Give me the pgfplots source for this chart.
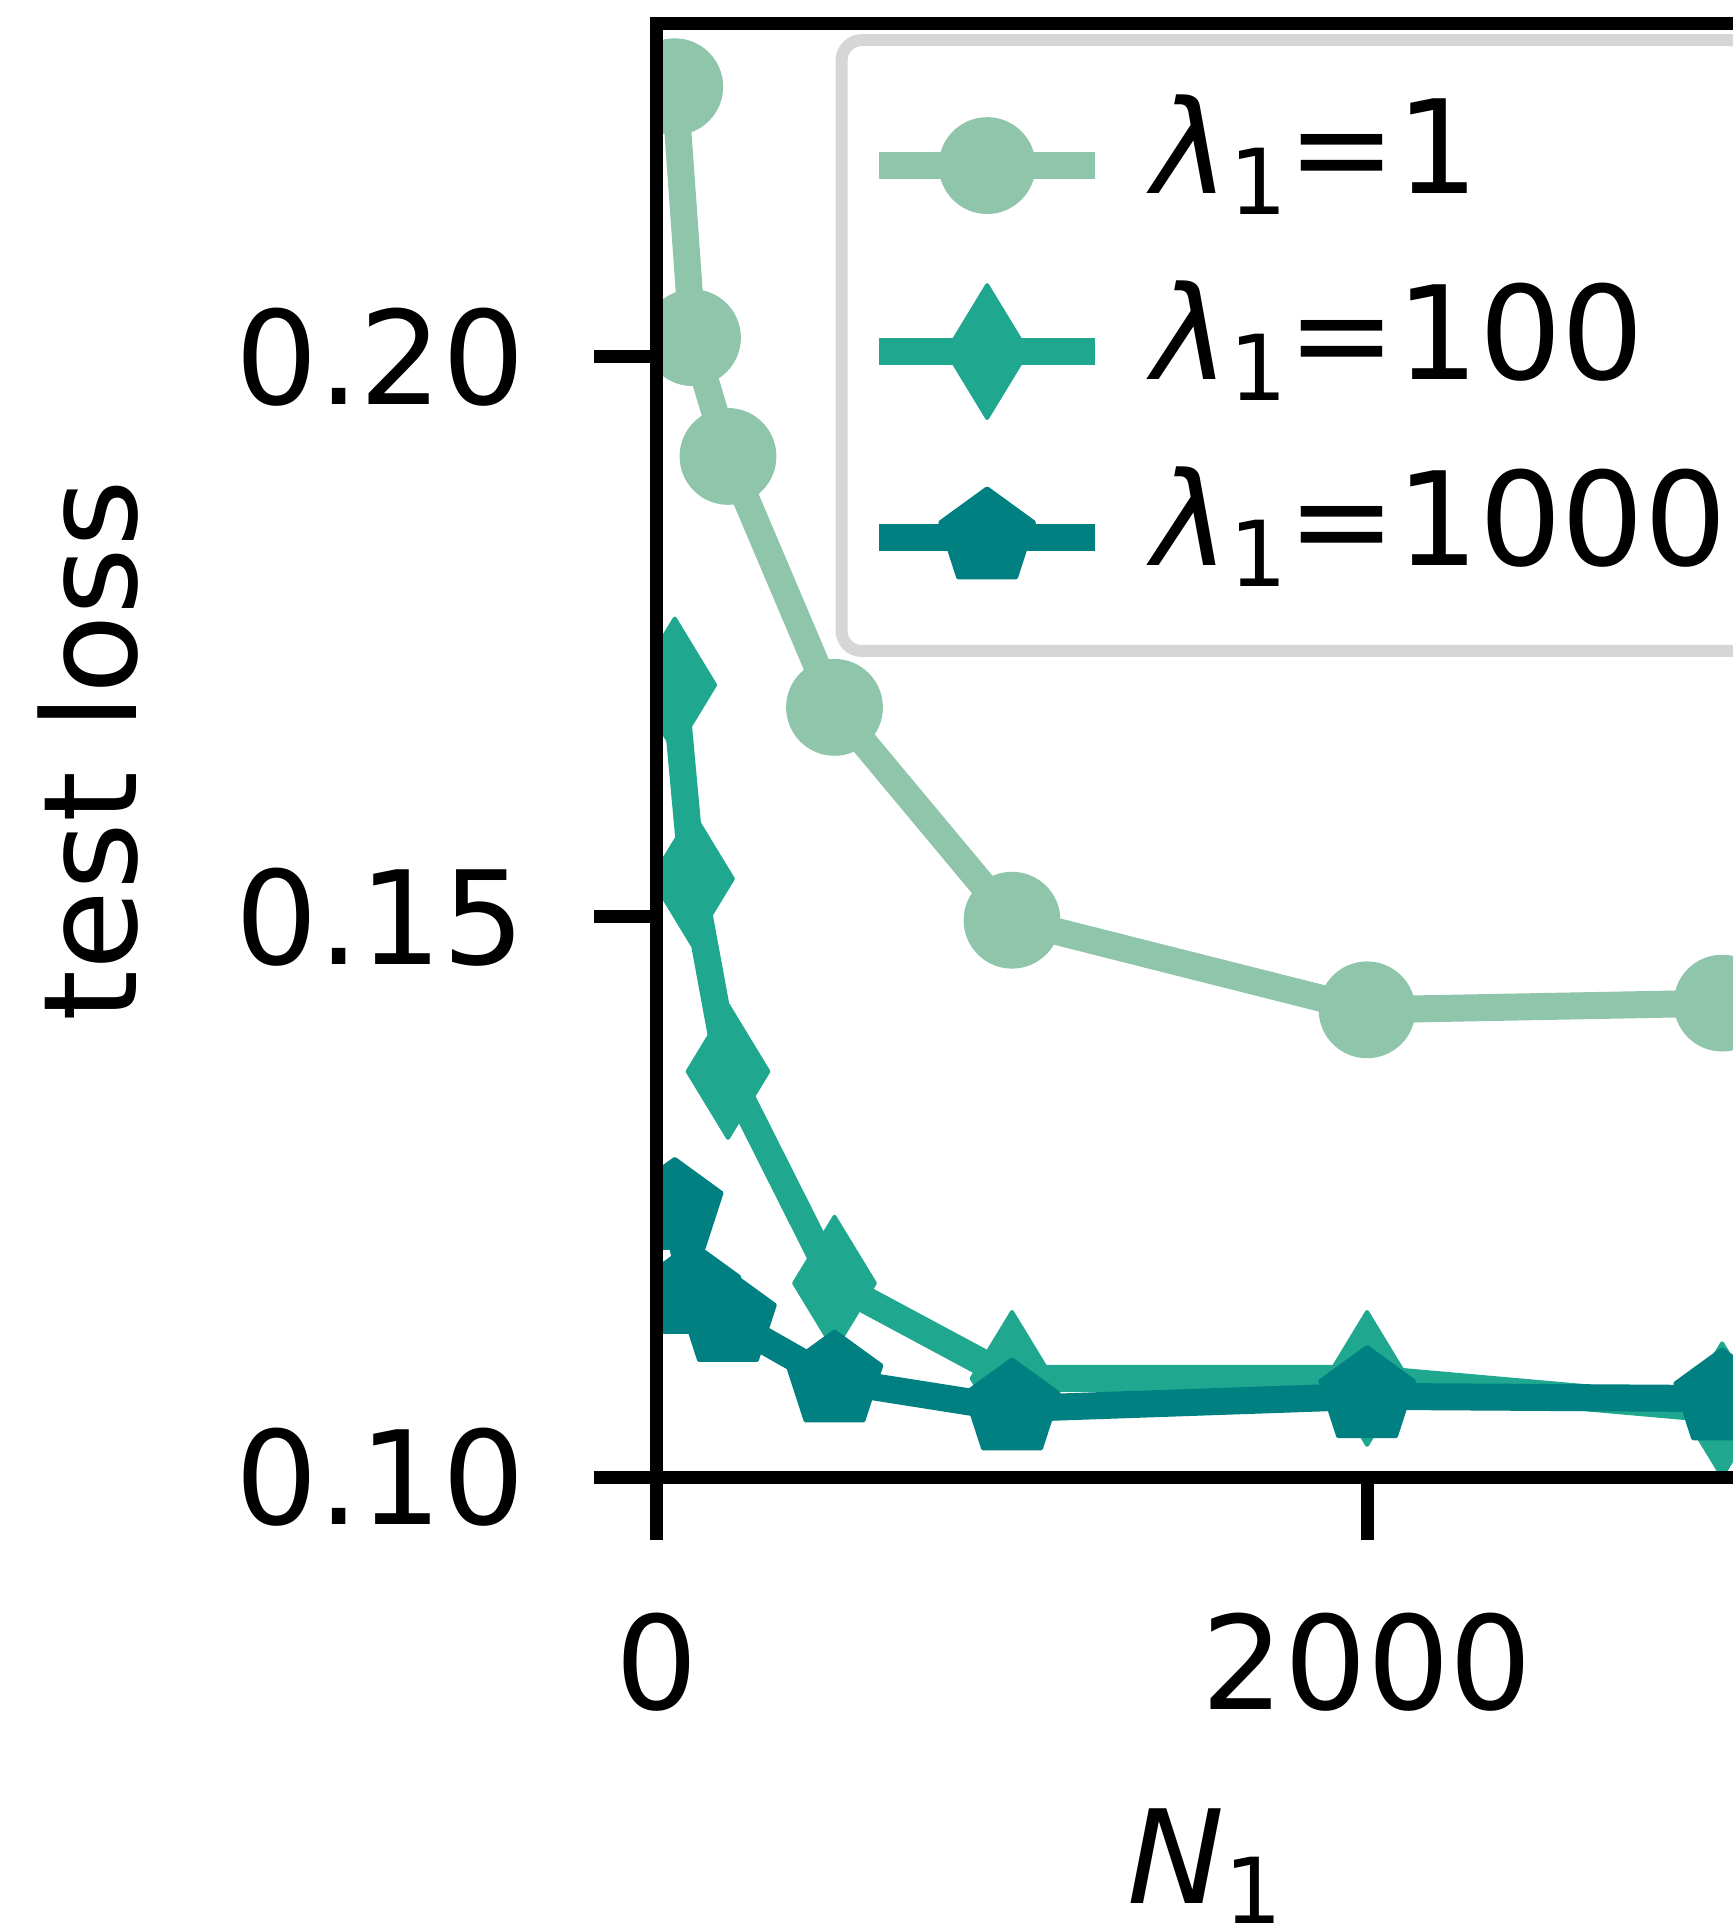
\documentclass[border=0pt]{standalone}
\usepackage{fontspec}
\setmainfont{DejaVu Sans}
\usepackage{pgfplots}
\pgfplotsset{compat=1.18}
\definecolor{cA}{HTML}{8EC5AB}
\definecolor{cB}{HTML}{20A78F}
\definecolor{cC}{HTML}{008080}
\definecolor{frameg}{HTML}{D6D6D6}
\newcommand{\fs}{\fontsize{32.5pt}{39pt}\selectfont}
\newcommand{\sub}[1]{\raisebox{-0.16em}{\fontsize{22.75pt}{27pt}\selectfont #1}}
\newcommand{\lam}{{\itshape λ}\sub{1}}
\begin{document}
\begin{tikzpicture}
\begin{axis}[
  scale only axis, width=274pt, height=363.25pt,
  xmin=0, xmax=3087, ymin=0.10, ymax=0.2297,
  xtick={0,2000}, xticklabels={0,2000},
  ytick={0.10,0.15,0.20}, yticklabels={0.10,0.15,0.20},
  xtick pos=bottom, ytick pos=left,
  tick align=outside, major tick length=15.75pt,
  tick style={line width=3.25pt, black},
  axis line style={line width=3.25pt, black},
  tick label style={font=\fs},
  xticklabel style={anchor=north, inner sep=0pt, yshift=-18pt},
  yticklabel style={anchor=east, inner sep=0pt, xshift=-17pt},
  every axis x label/.style={at={(axis description cs:0.5,-0.2932)}, anchor=base, font=\fs},
  every axis y label/.style={at={(axis description cs:-0.519,0.5)}, rotate=90, anchor=center, font=\fs},
  xlabel={{\itshape N}\sub{1}},
  ylabel={test loss},
  axis on top,
  clip marker paths=true,
  legend cell align=left,
  legend image code/.code={\draw[mark repeat=2,mark phase=2] plot coordinates {(0pt,-1.5pt) (27pt,-1.5pt) (54pt,-1.5pt)};},
  legend style={at={(axis description cs:0.163,0.993)}, anchor=north west,
    draw=frameg, line width=3pt, rounded corners=5pt, fill=white,
    font=\fs, inner xsep=6pt, inner ysep=6.6pt, row sep=0pt,
    nodes={inner sep=0pt, text height=31.8pt, text depth=14.7pt},
    /tikz/every odd column/.append style={column sep=11pt}},
]
\coordinate (O) at (rel axis cs:0,0);
\addplot[cA, line width=6.75pt, line join=round, mark=*, mark size=11.6pt,
  mark options={solid, fill=cA, draw=cA, line width=1pt}]
  coordinates {(50,0.2241)(100,0.2017)(200,0.1911)(500,0.1687)(1000,0.1497)(2000,0.1417)(3000,0.1423)};
\addlegendentry{\lam=1}
\addplot[cB, line width=6.75pt, line join=round, mark=diamond*, mark size=16.6pt,
  mark options={solid, fill=cB, draw=cB, line width=1pt, line join=round, xscale=0.81}]
  coordinates {(50,0.1707)(100,0.1534)(200,0.1362)(500,0.1173)(1000,0.1088)(2000,0.1088)(3000,0.1060)};
\addlegendentry{\lam=100}
\addplot[cC, line width=6.75pt, line join=round, mark=pentagon*, mark size=12.3pt,
  mark options={solid, fill=cC, draw=cC, line width=1pt, line join=round}]
  coordinates {(50,0.1240)(100,0.1165)(200,0.1140)(500,0.1086)(1000,0.1061)(2000,0.1072)(3000,0.1070)};
\addlegendentry{\lam=1000}
\end{axis}
\pgfresetboundingbox
\useasboundingbox ([xshift=-164.25pt,yshift=-112.25pt]O) rectangle ([xshift=269pt,yshift=369.25pt]O);
\end{tikzpicture}
\end{document}
